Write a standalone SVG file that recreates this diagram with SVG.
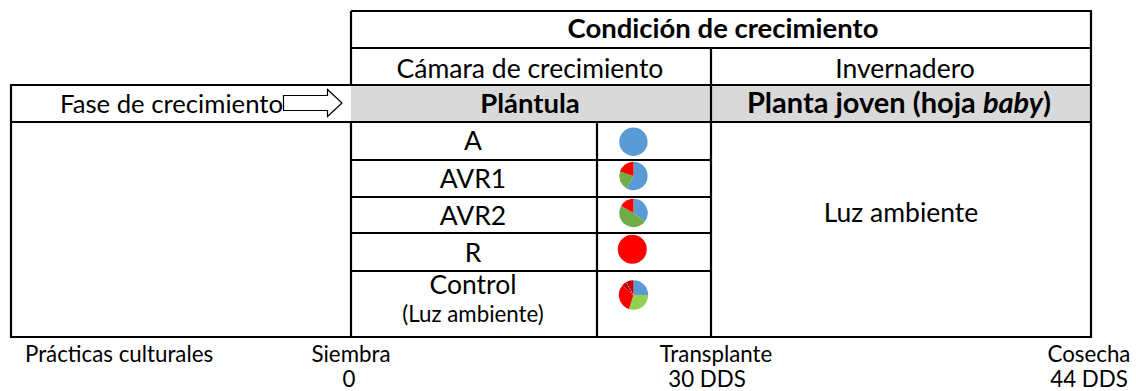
<svg xmlns="http://www.w3.org/2000/svg" width="1136" height="391" viewBox="0 0 1136 391">
<style>
  .t { font-family: Lato, "Liberation Sans", sans-serif; font-size: 26.5px; fill: #000; }
  .b { font-weight: bold; font-size: 27.5px; }
  .c { text-anchor: middle; }
  .s { font-size: 22.3px; }
  .ln { stroke: #000; stroke-width: 2.2; fill: none; }
</style>
<rect width="1136" height="391" fill="#fff"/>
<g id="table-lines">
  <rect x="351" y="85" width="740" height="37" fill="#d9d9d9"/>
  <path class="ln" d="M351 11 H1091 V337 H11 V85 H1091 M11 122 H1091 M351 48 H1091 M711 48 V337 M351 11 V85 M351 122 V337 M597 122 V337 M351 160 H711 M351 197 H711 M351 233 H711 M351 271 H711"/>
</g>
<g id="header">
  <text class="t b c" x="723" y="38">Condición de crecimiento</text>
  <text class="t c" x="530" y="78">Cámara de crecimiento</text>
  <text class="t c" x="905" y="78">Invernadero</text>
</g>
<g id="fase">
  <text class="t" x="283" y="113" text-anchor="end" style="font-size:25.7px">Fase de crecimiento</text>
  <path d="M283.5 95.5 H327.5 V89.5 L342 103 L327.5 116.5 V110.5 H283.5 Z" fill="#fff" stroke="#000" stroke-width="1.2"/>
  <text class="t b c" x="530" y="113">Plántula</text>
  <text class="t b c" x="899" y="113" style="font-size:29px">Planta joven (hoja <tspan font-style="italic">baby</tspan>)</text>
</g>
<g id="treatments">
  <text class="t c" x="473" y="150">A</text>
  <text class="t c" x="473" y="188">AVR1</text>
  <text class="t c" x="473" y="225">AVR2</text>
  <text class="t c" x="473" y="262">R</text>
  <text class="t c" x="473" y="294">Control</text>
  <text class="t c s" x="473" y="322">(Luz ambiente)</text>
  <text class="t c" x="901" y="222">Luz ambiente</text>
</g>
<g id="pies">
  <circle cx="633.4" cy="141.7" r="14.2" fill="#5b9bd5"/>
  <g id="pie-avr1">
    <path d="M633.5 176 L633.5 161.8 A14.2 14.2 0 1 1 626.62 188.42 Z" fill="#5b9bd5"/>
    <path d="M633.5 176 L626.62 188.42 A14.2 14.2 0 0 1 619.99 171.61 Z" fill="#70ad47"/>
    <path d="M633.5 176 L619.99 171.61 A14.2 14.2 0 0 1 633.5 161.8 Z" fill="#ff0000"/>
  </g>
  <g id="pie-avr2">
    <path d="M633.5 213 L633.5 198.8 A14.2 14.2 0 0 1 644.84 221.55 Z" fill="#5b9bd5"/>
    <path d="M633.5 213 L644.84 221.55 A14.2 14.2 0 0 1 621.2 205.9 Z" fill="#70ad47"/>
    <path d="M633.5 213 L621.2 205.9 A14.2 14.2 0 0 1 633.5 198.8 Z" fill="#ff0000"/>
  </g>
  <circle cx="632.3" cy="249.3" r="14.5" fill="#ff0000"/>
  <g id="pie-control">
    <path d="M633.5 295 L633.5 280.3 A14.7 14.7 0 0 1 648.2 295 Z" fill="#5b9bd5"/>
    <path d="M633.5 295 L648.2 295 A14.7 14.7 0 0 1 628.96 308.98 Z" fill="#92d050"/>
    <path d="M633.5 295 L628.96 308.98 A14.7 14.7 0 0 1 622.24 285.55 Z" fill="#ff0000"/>
    <path d="M633.5 295 L622.24 285.55 A14.7 14.7 0 0 1 633.5 280.3 Z" fill="#c00000"/>
    <path d="M633.5 295 L626.15 282.27" stroke="#fff" stroke-width="0.8" stroke-dasharray="1.5 1.5"/>
  </g>
</g>
<g id="timeline">
  <text class="t s" x="25" y="362">Prácticas culturales</text>
  <text class="t s c" x="351" y="362">Siembra</text>
  <text class="t s c" x="349" y="387">0</text>
  <text class="t s c" x="716" y="362">Transplante</text>
  <text class="t s c" x="707" y="387">30 DDS</text>
  <text class="t s c" x="1089" y="362">Cosecha</text>
  <text class="t s c" x="1089" y="387">44 DDS</text>
</g>
</svg>
